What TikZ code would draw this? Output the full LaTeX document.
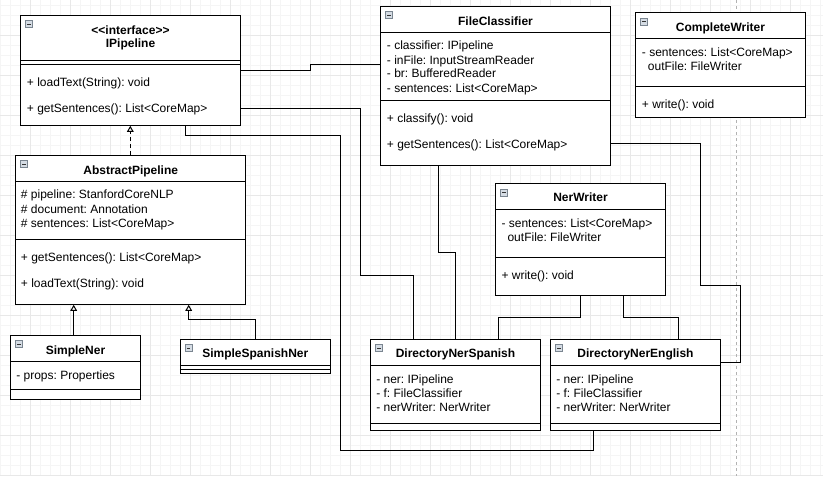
\documentclass[tikz,border=0pt]{standalone}
\usepackage{fontspec}
\newfontfamily\umlfont{Liberation Sans}
\usetikzlibrary{arrows.meta,fit,calc}
\definecolor{iconfill}{HTML}{D5DCE4}
\definecolor{iconedge}{HTML}{7A8590}
\newcommand{\umlicon}[1]{%
  \draw[iconbox] ($(#1.north west)+(5.3,5.7)$) rectangle ++(7,7);
  \draw[iconbar] ($(#1.north west)+(7.1,9.2)$) -- ++(3.4,0);}
\frenchspacing
\begin{document}
\begin{tikzpicture}[x=0.75pt,y=-0.75pt,
  cls/.style={draw=black, fill=white, line width=0.75pt, inner sep=0pt},
  sepline/.style={draw=black, line width=0.75pt},
  ttl/.style={font=\umlfont\bfseries\fontsize{9}{11}\selectfont, anchor=base, inner sep=0pt},
  txt/.style={font=\umlfont\fontsize{9}{11}\selectfont, anchor=base west, inner sep=0pt},
  conn/.style={draw=black, line width=0.75pt},
  inh/.style={conn, -{Triangle[open, length=4.5pt, width=5pt]}},
  real/.style={inh, dash pattern=on 3pt off 2.25pt},
  iconbox/.style={draw=iconedge, fill=iconfill, line width=0.6pt},
  iconbar/.style={draw=black!80, line width=0.75pt},
  minorg/.style={draw=black!4, line width=0.75pt},
  majorg/.style={draw=black!9, line width=0.75pt},
  pageline/.style={draw=black!30, line width=0.75pt, dash pattern=on 2.25pt off 2.25pt}]
\useasboundingbox (0,0) rectangle (823,476);
\fill[white] (0,0) rectangle (823,476);
% grid
\foreach \i in {0,10,...,820} \draw[minorg] (\i,0) -- (\i,476);
\foreach \j in {5,15,...,475} \draw[minorg] (0,\j) -- (823,\j);
\foreach \i in {30,70,...,790} \draw[majorg] (\i,0) -- (\i,476);
\foreach \j in {35,75,...,475} \draw[majorg] (0,\j) -- (823,\j);
\draw[pageline] (736.7,0) -- (736.7,476);

% ---------- IPipeline
\node[cls, fit={(20.7,15.3) (240.3,125.3)}] (ip) {};
\umlicon{ip}
\node[ttl] (ipt1) at (130.5,34.5) {<\kern0pt<interface>\kern0pt>};
\node[ttl] (ipt2) at (130.5,47.8) {IPipeline};
\draw[sepline] (ip.west |- 0,60.3) -- (ip.east |- 0,60.3);
\draw[sepline] (ip.west |- 0,64.3) -- (ip.east |- 0,64.3);
\node[txt] (ipm1) at (26.7,86.2) {+ loadText(String): void};
\node[txt] (ipm2) at (26.7,112.8) {+ getSentences(): List<CoreMap>};

% ---------- AbstractPipeline
\node[cls, fit={(15.7,155.3) (245.7,304.3)}] (ap) {};
\umlicon{ap}
\node[ttl] (apt) at (130.7,174.5) {AbstractPipeline};
\draw[sepline] (ap.west |- 0,181.7) -- (ap.east |- 0,181.7);
\node[txt] (apa1) at (20.7,198.5) {\# pipeline: StanfordCoreNLP};
\node[txt] (apa2) at (20.7,213.2) {\# document: Annotation};
\node[txt] (apa3) at (20.7,227.2) {\# sentences: List<CoreMap>};
\draw[sepline] (ap.west |- 0,239.3) -- (ap.east |- 0,239.3);
\node[txt] (apm1) at (20.7,261.2) {+ getSentences(): List<CoreMap>};
\node[txt] (apm2) at (20.7,287.2) {+ loadText(String): void};

% ---------- SimpleNer
\node[cls, fit={(10.7,335.3) (140.3,399)}] (sn) {};
\umlicon{sn}
\node[ttl] (snt) at (75.5,354.5) {SimpleNer};
\draw[sepline] (sn.west |- 0,361.3) -- (sn.east |- 0,361.3);
\node[txt] (sna1) at (16,379.2) {- props: Properties};
\draw[sepline] (sn.west |- 0,389.3) -- (sn.east |- 0,389.3);

% ---------- SimpleSpanishNer
\node[cls, fit={(180.3,339.3) (330.3,373)}] (ssn) {};
\umlicon{ssn}
\node[ttl] (ssnt) at (255.3,357.8) {SimpleSpanishNer};
\draw[sepline] (ssn.west |- 0,365.3) -- (ssn.east |- 0,365.3);
\draw[sepline] (ssn.west |- 0,369.3) -- (ssn.east |- 0,369.3);

% ---------- FileClassifier
\node[cls, fit={(380.7,6.3) (610.3,165)}] (fc) {};
\umlicon{fc}
\node[ttl] (fct) at (495.5,25.2) {FileClassifier};
\draw[sepline] (fc.west |- 0,32.3) -- (fc.east |- 0,32.3);
\node[txt] (fca1) at (386.7,49.8) {- classifier: IPipeline};
\node[txt] (fca2) at (386.7,64.2) {- inFile: InputStreamReader};
\node[txt] (fca3) at (386.7,77.8) {- br: BufferedReader};
\node[txt] (fca4) at (386.7,92.2) {- sentences: List<CoreMap>};
\draw[sepline] (fc.west |- 0,100) -- (fc.east |- 0,100);
\node[txt] (fcm1) at (386.7,122.2) {+ classify(): void};
\node[txt] (fcm2) at (386.7,148.2) {+ getSentences(): List<CoreMap>};

% ---------- CompleteWriter
\node[cls, fit={(635.7,12.7) (805.3,117)}] (cw) {};
\umlicon{cw}
\node[ttl] (cwt) at (720.5,31.2) {CompleteWriter};
\draw[sepline] (cw.west |- 0,38.7) -- (cw.east |- 0,38.7);
\node[txt] (cwa1) at (641.7,56.2) {- sentences: List<CoreMap>};
\node[txt] (cwa2) at (647.7,70.2) {outFile: FileWriter};
\draw[sepline] (cw.west |- 0,86.3) -- (cw.east |- 0,86.3);
\node[txt] (cwm1) at (641.7,108.2) {+ write(): void};

% ---------- NerWriter
\node[cls, fit={(495.7,183.7) (665.3,295.3)}] (nw) {};
\umlicon{nw}
\node[ttl] (nwt) at (580.5,201.8) {NerWriter};
\draw[sepline] (nw.west |- 0,209.3) -- (nw.east |- 0,209.3);
\node[txt] (nwa1) at (501.3,227.2) {- sentences: List<CoreMap>};
\node[txt] (nwa2) at (507.3,241.2) {outFile: FileWriter};
\draw[sepline] (nw.west |- 0,257.7) -- (nw.east |- 0,257.7);
\node[txt] (nwm1) at (501.3,279.5) {+ write(): void};

% ---------- DirectoryNerSpanish
\node[cls, fit={(370.7,339.3) (540.3,430.3)}] (dns) {};
\umlicon{dns}
\node[ttl] (dnst) at (455.5,357.8) {DirectoryNerSpanish};
\draw[sepline] (dns.west |- 0,365.3) -- (dns.east |- 0,365.3);
\node[txt] (dnsa1) at (376,383.2) {- ner: IPipeline};
\node[txt] (dnsa2) at (376,397.2) {- f: FileClassifier};
\node[txt] (dnsa3) at (376,411.2) {- nerWriter: NerWriter};
\draw[sepline] (dns.west |- 0,423.3) -- (dns.east |- 0,423.3);

% ---------- DirectoryNerEnglish
\node[cls, fit={(550.7,339.3) (720.3,430.3)}] (dne) {};
\umlicon{dne}
\node[ttl] (dnet) at (635.5,357.8) {DirectoryNerEnglish};
\draw[sepline] (dne.west |- 0,365.3) -- (dne.east |- 0,365.3);
\node[txt] (dnea1) at (556,383.2) {- ner: IPipeline};
\node[txt] (dnea2) at (556,397.2) {- f: FileClassifier};
\node[txt] (dnea3) at (556,411.2) {- nerWriter: NerWriter};
\draw[sepline] (dne.west |- 0,423.3) -- (dne.east |- 0,423.3);

% ---------- connectors
\draw[conn] (ip.east |- 0,70.3) -| (310.3,64.5) -- (fc.west |- 0,64.5);
\draw[conn] (ip.east |- 0,108.3) -| (360.5,275.3) -| (dns.north -| 413.3,0);
\draw[conn] (ip.south -| 185.3,0) |- (340.3,135.3) |- (593.3,450) -- (dne.south -| 593.3,0);
\draw[conn] (fc.south -| 438.5,0) |- (455.3,252.3) -- (dns.north -| 455.3,0);
\draw[conn] (fc.east |- 0,143.7) -| (700.3,285.3) -| (740.3,362.3) -- (dne.east |- 0,362.3);
\draw[conn] (nw.south -| 580.3,0) |- (498.7,317) -- (dns.north -| 498.7,0);
\draw[conn] (nw.south -| 623.3,0) |- (678.3,317) -- (dne.north -| 678.3,0);
\draw[real] (ap.north -| 130.3,0) -- (ip.south -| 130.3,0);
\draw[inh] (sn.north -| 73.7,0) -- (ap.south -| 73.7,0);
\draw[inh] (ssn.north -| 255.7,0) |- (188.7,319.3) -- (ap.south -| 188.7,0);
\end{tikzpicture}
\end{document}
